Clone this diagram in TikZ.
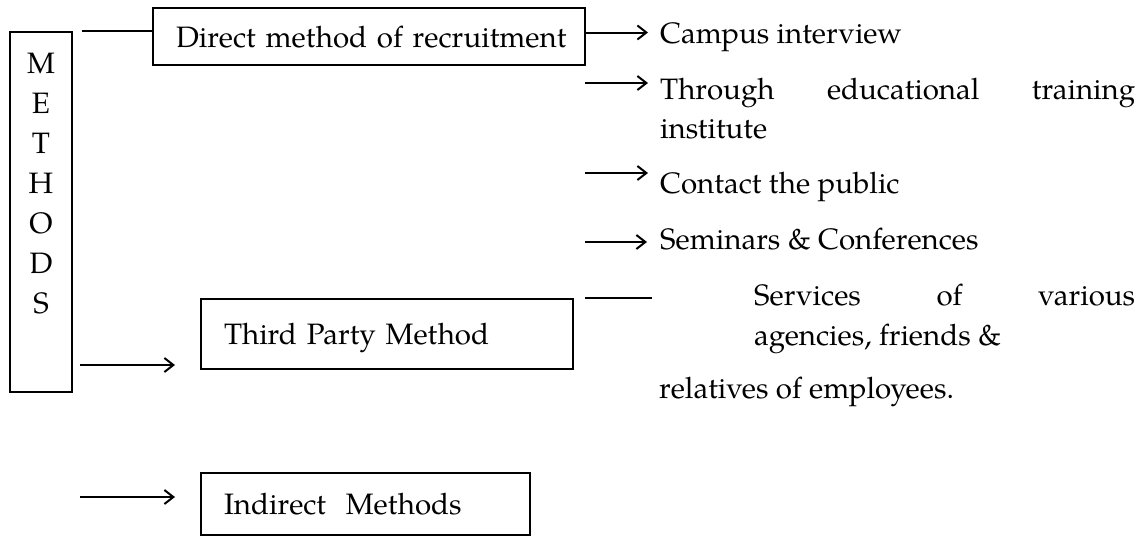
\documentclass[tikz,border=0pt]{standalone}
\usepackage{fontspec}
\setmainfont{TeX Gyre Pagella}
\usetikzlibrary{arrows.meta}
\begin{document}
\begin{tikzpicture}[x=1pt,y=-1pt,
  every node/.style={inner sep=0pt, font=\fontsize{29.5pt}{36pt}\selectfont,
    text height=21pt, text depth=0pt},
  frame/.style={draw, line width=2pt, anchor=north west, inner xsep=23pt, align=left},
  itemtext/.style={anchor=base west},
  arr/.style={line width=2pt, -{Straight Barb[length=9pt,width=14pt]}},
  link/.style={line width=2pt}]
\useasboundingbox (0,0) rectangle (1147,536);

% vertical title box
\node[draw, line width=2pt, anchor=north west, minimum width=62pt,
      minimum height=360pt] (methods) at (9,31) {};
\foreach \c [count=\i from 0] in {M,E,T,H,O,D,S}
  \node[anchor=base] (lt\i) at (41,{73+40*\i}) {\c};

% method boxes
\node[frame, minimum height=57pt, text width=386pt] (direct) at (152,7)
  {\mbox{Direct method of recruitment}};
\node[frame, minimum height=70pt, text width=326pt] (third) at (200,298)
  {\mbox{Third Party Method}};
\node[frame, minimum height=62pt, text width=283pt] (indirect) at (200,472)
  {\mbox{Indirect\ \ Methods}};

% items of the direct method
\node[itemtext] (campus) at (660,43) {Campus interview};
\node[itemtext] (through) at (660,99) {\makebox[475pt][s]{Through educational training}};
\node[itemtext] (institute) at (660,138) {institute};
\node[itemtext] (contact) at (660,193) {Contact the public};
\node[itemtext] (seminars) at (660,249) {Seminars \& Conferences};
\node[itemtext] (services) at (754,305) {\makebox[381pt][s]{Services of various}};
\node[itemtext] (agencies) at (754,345) {agencies, friends \&};
\node[itemtext] (relatives) at (659,398) {relatives of employees.};

% connectors
\draw[link] ([xshift=9pt]methods.north east) -- (direct.west |- methods.north);
\draw[arr] (direct.east |- campus.west) -- ([xshift=-12pt]campus.west);

\coordinate (fork) at (585,0);
\path ([yshift=5.5pt]through.west) coordinate (p2)
      ([yshift=9.5pt]contact.west) coordinate (p3)
      ([yshift=-3.5pt]seminars.west) coordinate (p4)
      ([yshift=-3.5pt]services.west) coordinate (p5);
\draw[arr] (fork |- p2) -- ([xshift=-12pt]p2);
\draw[arr] (fork |- p3) -- ([xshift=-12pt]p3);
\draw[arr] (fork |- p4) -- ([xshift=-13pt]p4);
\draw[link] (fork |- p5) -- ([xshift=-102pt]p5);

\coordinate (s3) at (80,365);
\draw[arr, shorten >=25pt] (s3) -- (s3 -| third.west);
\coordinate (s4) at (80,497);
\draw[arr, shorten >=25pt] (s4) -- (s4 -| indirect.west);
\end{tikzpicture}
\end{document}
